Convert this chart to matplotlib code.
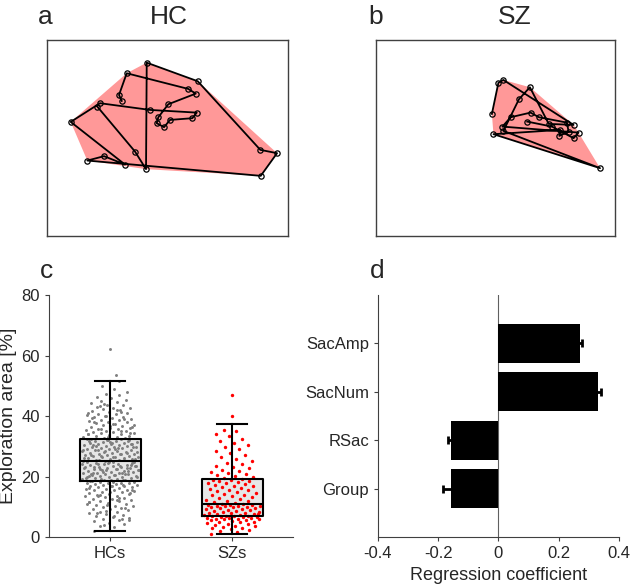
"""Exploration area figure: example scanpaths, group box plot, regression coefficients"""

import numpy as np
import matplotlib

matplotlib.use("Agg")
import matplotlib.pyplot as plt

plt.rcParams["font.family"] = ["Liberation Sans", "DejaVu Sans"]
plt.rcParams["text.color"] = "#262626"
plt.rcParams["axes.labelcolor"] = "#262626"
plt.rcParams["xtick.color"] = "#262626"
plt.rcParams["ytick.color"] = "#262626"

# --- a/b: example scanpaths, fixations in viewing order (screen units, y down) ---
hc_fix_x = [74.7, 72.0, 79.7, 141.3, 148.7, 121.3, 111.3, 109.7, 117.0, 123.0, 145.3,
            149.7, 103.0, 53.0, 23.7, 78.0, 57.0, 40.3, 213.7, 230.0, 213.3, 150.7,
            99.7, 99.0, 88.0, 50.3]
hc_fix_y = [61.0, 55.0, 33.3, 49.0, 53.7, 64.3, 77.3, 83.3, 87.3, 80.0, 78.3,
            72.7, 70.0, 63.3, 82.0, 124.7, 116.3, 120.7, 136.0, 113.3, 110.0, 41.3,
            22.7, 129.3, 111.7, 66.7]

sz_fix_x = [116.7, 123.3, 128.3, 199.0, 174.0, 155.0, 144.0, 128.3, 225.7, 118.3, 185.7,
            184.7, 194.0, 192.3, 164.0, 155.7, 135.7, 127.3, 204.0, 199.0, 177.3, 152.3]
sz_fix_y = [74.0, 42.7, 40.0, 85.0, 84.0, 47.3, 59.3, 91.0, 128.3, 94.3, 90.0,
            96.0, 91.7, 82.7, 77.3, 72.7, 77.3, 86.7, 92.7, 98.3, 86.7, 81.7]

# --- c: exploration area [%] per participant ---
hc_area = [
    2.0, 3.3, 3.8, 4.4, 4.7, 5.2, 5.5, 5.9, 6.3, 6.6, 7.0, 7.3, 7.5, 7.9, 8.2, 8.4, 8.8,
    9.1, 9.3, 9.7, 9.9, 10.2, 10.4, 10.7, 11.0, 11.1, 11.5, 11.8, 12.0, 12.3, 12.5, 12.7,
    13.0, 13.2, 13.4, 13.7, 13.9, 14.1, 14.3, 14.6, 14.8, 14.9, 15.2, 15.4, 15.5, 15.7,
    15.9, 16.0, 16.2, 16.4, 16.5, 16.7, 16.8, 17.0, 17.1, 17.3, 17.4, 17.5, 17.7, 17.8,
    17.9, 18.0, 18.1, 18.2, 18.3, 18.4, 6.1, 8.6, 10.9, 12.2, 13.6, 14.4, 15.0, 16.3, 17.2,
    4.1, 5.7, 7.1, 8.0, 9.5, 10.5, 11.6, 12.9, 14.0, 15.6, 16.9,
    18.6, 18.8, 18.9, 19.1, 19.2, 19.4, 19.5, 19.7, 19.8, 20.0, 20.1, 20.3, 20.4, 20.6,
    20.7, 20.9, 21.0, 21.2, 21.3, 21.5, 21.6, 21.8, 21.9, 22.1, 22.2, 22.4, 22.5, 22.7,
    22.8, 23.0, 23.1, 23.3, 23.4, 23.6, 23.7, 23.9, 24.0, 24.2, 24.3, 24.5, 24.6, 24.8,
    24.9, 18.7, 19.3, 19.9, 20.5, 21.1, 21.7, 22.3, 22.9, 23.5, 24.1, 24.7, 19.0, 20.2,
    20.8, 21.4, 22.0, 22.6, 23.2, 23.8, 24.4, 19.6, 21.1, 22.4, 23.6, 24.8, 20.9, 22.7,
    25.1, 25.2, 25.4, 25.5, 25.7, 25.8, 26.0, 26.1, 26.3, 26.4, 26.6, 26.7, 26.9, 27.0,
    27.2, 27.3, 27.5, 27.6, 27.8, 27.9, 28.1, 28.2, 28.4, 28.5, 28.7, 28.8, 29.0, 29.1,
    29.3, 29.4, 29.6, 29.7, 29.9, 30.0, 30.2, 30.3, 30.5, 30.6, 30.8, 30.9, 31.1, 31.2,
    31.4, 31.5, 31.7, 31.8, 32.0, 32.1, 32.3, 32.4, 25.3, 25.9, 26.5, 27.1, 27.7, 28.3,
    28.9, 29.5, 30.1, 30.7, 31.3, 31.9, 25.6, 26.8, 28.0, 29.2, 30.4, 31.6, 32.2, 26.2,
    27.4, 28.6, 29.8, 31.0, 32.4,
    32.6, 32.8, 33.0, 33.2, 33.3, 33.5, 33.7, 33.9, 34.1, 34.3, 34.4, 34.6, 34.8, 35.0,
    35.2, 35.4, 35.6, 35.8, 36.0, 36.2, 36.5, 36.7, 36.9, 37.1, 37.4, 37.6, 37.9, 38.1,
    38.3, 38.6, 38.8, 39.1, 39.3, 39.6, 39.8, 40.1, 40.3, 40.5, 40.8, 41.0, 41.3, 41.6,
    41.9, 42.2, 42.5, 42.8, 43.1, 43.5, 43.8, 44.2, 44.6, 45.0, 45.4, 45.8, 46.3, 46.8,
    47.4, 48.0, 48.9, 50.0, 51.5, 33.1, 34.0, 34.9, 35.7, 36.4, 37.3, 38.0, 38.9, 39.9,
    40.9, 42.0, 43.3, 34.5, 36.8, 39.4, 41.2, 44.0,
]
hc_outliers = [53.5, 62.0]

sz_area = [
    1.0, 1.5, 2.0, 2.2, 2.6, 2.9, 3.1, 3.4, 3.6, 3.8, 4.0, 4.2, 4.4, 4.6, 4.8, 5.0, 5.1,
    5.3, 5.5, 5.6, 5.8, 5.9, 6.0, 6.1, 6.2, 6.3, 6.4, 6.5, 6.6, 6.7, 6.8, 6.9,
    7.0, 7.1, 7.2, 7.4, 7.5, 7.7, 7.8, 8.0, 8.1, 8.3, 8.4, 8.6, 8.7, 8.9, 9.0, 9.2, 9.3,
    9.5, 9.6, 9.8, 9.9, 10.0, 10.1, 10.2, 10.3, 10.4, 10.5, 10.6, 10.7, 10.8, 10.9, 7.6,
    11.2, 11.5, 11.8, 12.0, 12.3, 12.6, 12.9, 13.2, 13.5, 13.8, 14.0, 14.3, 14.6, 14.9,
    15.1, 15.4, 15.7, 16.0, 16.2, 16.5, 16.8, 17.0, 17.2, 17.5, 17.7, 17.9, 18.1, 18.4,
    18.6, 18.8, 19.0, 19.2,
    19.5, 19.8, 20.1, 20.4, 20.8, 21.1, 21.5, 21.9, 22.3, 22.8, 23.2, 23.6, 24.1, 24.6,
    25.2, 25.9, 26.5, 27.1, 27.8, 28.4, 29.0, 29.6, 30.3, 31.0, 31.8, 32.5, 33.3, 34.1,
    35.0, 35.3,
]
sz_outliers = [40.0, 47.0]

# box plot summary (median, quartiles, whisker ends)
hc_box = dict(med=25.0, q1=18.5, q3=32.5, whislo=2.0, whishi=51.5)
sz_box = dict(med=11.0, q1=7.0, q3=19.3, whislo=1.0, whishi=37.5)
group_labels = ["HCs", "SZs"]

# --- d: regression coefficients ---
predictors = ["Group", "RSac", "SacNum", "SacAmp"]
coef = [-0.157, -0.159, 0.330, 0.269]
coef_err = [0.026, 0.007, 0.009, 0.008]


def convex_hull(xs, ys):
    pts = sorted(zip(xs, ys))

    def cross(o, a, b):
        return (a[0] - o[0]) * (b[1] - o[1]) - (a[1] - o[1]) * (b[0] - o[0])

    lower, upper = [], []
    for p in pts:
        while len(lower) >= 2 and cross(lower[-2], lower[-1], p) <= 0:
            lower.pop()
        lower.append(p)
    for p in reversed(pts):
        while len(upper) >= 2 and cross(upper[-2], upper[-1], p) <= 0:
            upper.pop()
        upper.append(p)
    return np.array(lower[:-1] + upper[:-1])


def draw_scanpath(ax, xs, ys):
    hull = convex_hull(xs, ys)
    ax.fill(hull[:, 0], hull[:, 1], color="#ff9898", lw=0, zorder=1)
    ax.plot(xs, ys, "-o", color="black", lw=1.3, ms=3.8, mfc="none", mew=0.9, zorder=2)
    ax.set_xlim(0, 241)
    ax.set_ylim(196, 0)
    ax.set_xticks([])
    ax.set_yticks([])
    for s in ax.spines.values():
        s.set_color("#404040")
        s.set_linewidth(1.0)


def jitter(values, width):
    # spread points sideways, a bit narrower where the data are sparse
    v = np.asarray(values)
    dens = np.exp(-0.5 * ((v[:, None] - v[None, :]) / 3.0) ** 2).sum(axis=1)
    dens = (dens / dens.max()) ** 0.3
    u = (np.arange(len(v)) * 0.6180339887) % 1.0 * 2 - 1
    return width * dens * u


fig = plt.figure(figsize=(6.31, 5.88), dpi=100)

# --- a / b ---
ax_a = fig.add_axes([0.0745, 0.599, 0.382, 0.333])
draw_scanpath(ax_a, hc_fix_x, hc_fix_y)
ax_b = fig.add_axes([0.596, 0.599, 0.379, 0.333])
draw_scanpath(ax_b, sz_fix_x, sz_fix_y)

fig.text(0.268, 0.960, "HC", fontsize=19, ha="center", va="baseline")
fig.text(0.815, 0.960, "SZ", fontsize=19, ha="center", va="baseline")
fig.text(0.060, 0.960, "a", fontsize=19, va="baseline")
fig.text(0.583, 0.960, "b", fontsize=19, va="baseline")
fig.text(0.063, 0.527, "c", fontsize=19, va="baseline")
fig.text(0.586, 0.527, "d", fontsize=19, va="baseline")

# --- c ---
ax_c = fig.add_axes([0.0777, 0.0867, 0.3867, 0.4116])
stats = [dict(hc_box, fliers=[]), dict(sz_box, fliers=[])]
ax_c.bxp(stats, positions=[1, 2], widths=0.5, capwidths=0.25, showfliers=False,
         patch_artist=True, manage_ticks=False,
         boxprops=dict(facecolor="#e6e6e6", edgecolor="none"),
         whiskerprops=dict(lw=0), capprops=dict(lw=0), medianprops=dict(lw=0), zorder=1)
ax_c.scatter(1 + jitter(hc_area, 0.24), hc_area, s=4.5, color="#7f7f7f", lw=0, zorder=2)
ax_c.scatter(np.ones(len(hc_outliers)) + [0.05, 0.0], hc_outliers, s=4.5,
             color="#7f7f7f", lw=0, zorder=2)
ax_c.scatter(2 + jitter(sz_area, 0.24), sz_area, s=6, color="#ff0000", lw=0, zorder=2)
ax_c.scatter(np.full(len(sz_outliers), 2.0), sz_outliers, s=6, color="#ff0000", lw=0, zorder=2)
line = dict(color="black", lw=1.5)
ax_c.bxp(stats, positions=[1, 2], widths=0.5, capwidths=0.25, showfliers=False,
         manage_ticks=False, boxprops=line, whiskerprops=line, capprops=line,
         medianprops=line, zorder=3)
ax_c.set_xlim(0.5, 2.5)
ax_c.set_ylim(0, 80)
ax_c.set_yticks([0, 20, 40, 60, 80])
ax_c.set_xticks([1, 2])
ax_c.set_xticklabels(group_labels)
ax_c.set_ylabel("Exploration area [%]", fontsize=14)
ax_c.yaxis.set_label_coords(-0.13, 0.5)
ax_c.spines[["top", "right"]].set_visible(False)
for s in ("left", "bottom"):
    ax_c.spines[s].set_color("#404040")
ax_c.tick_params(direction="out", length=3, labelsize=12, color="#404040")

# --- d ---
ax_d = fig.add_axes([0.599, 0.0867, 0.382, 0.4116])
ypos = np.arange(1, len(predictors) + 1)
ax_d.barh(ypos, coef, height=0.8, color="black", zorder=2)
ax_d.errorbar(coef, ypos, xerr=coef_err, fmt="none", ecolor="black", elinewidth=2,
              capsize=3, capthick=2, zorder=3)
ax_d.axvline(0, color="#606060", lw=0.8, zorder=1)
ax_d.set_xlim(-0.4, 0.4)
ax_d.set_ylim(0, 5)
ax_d.set_xticks([-0.4, -0.2, 0, 0.2, 0.4])
ax_d.set_xticklabels(["-0.4", "-0.2", "0", "0.2", "0.4"])
ax_d.set_yticks(ypos)
ax_d.set_yticklabels(predictors)
ax_d.set_xlabel("Regression coefficient", fontsize=13)
ax_d.spines[["top", "right"]].set_visible(False)
for s in ("left", "bottom"):
    ax_d.spines[s].set_color("#404040")
ax_d.tick_params(direction="out", length=3, labelsize=12, color="#404040")

fig.savefig("out.png", dpi=100)
